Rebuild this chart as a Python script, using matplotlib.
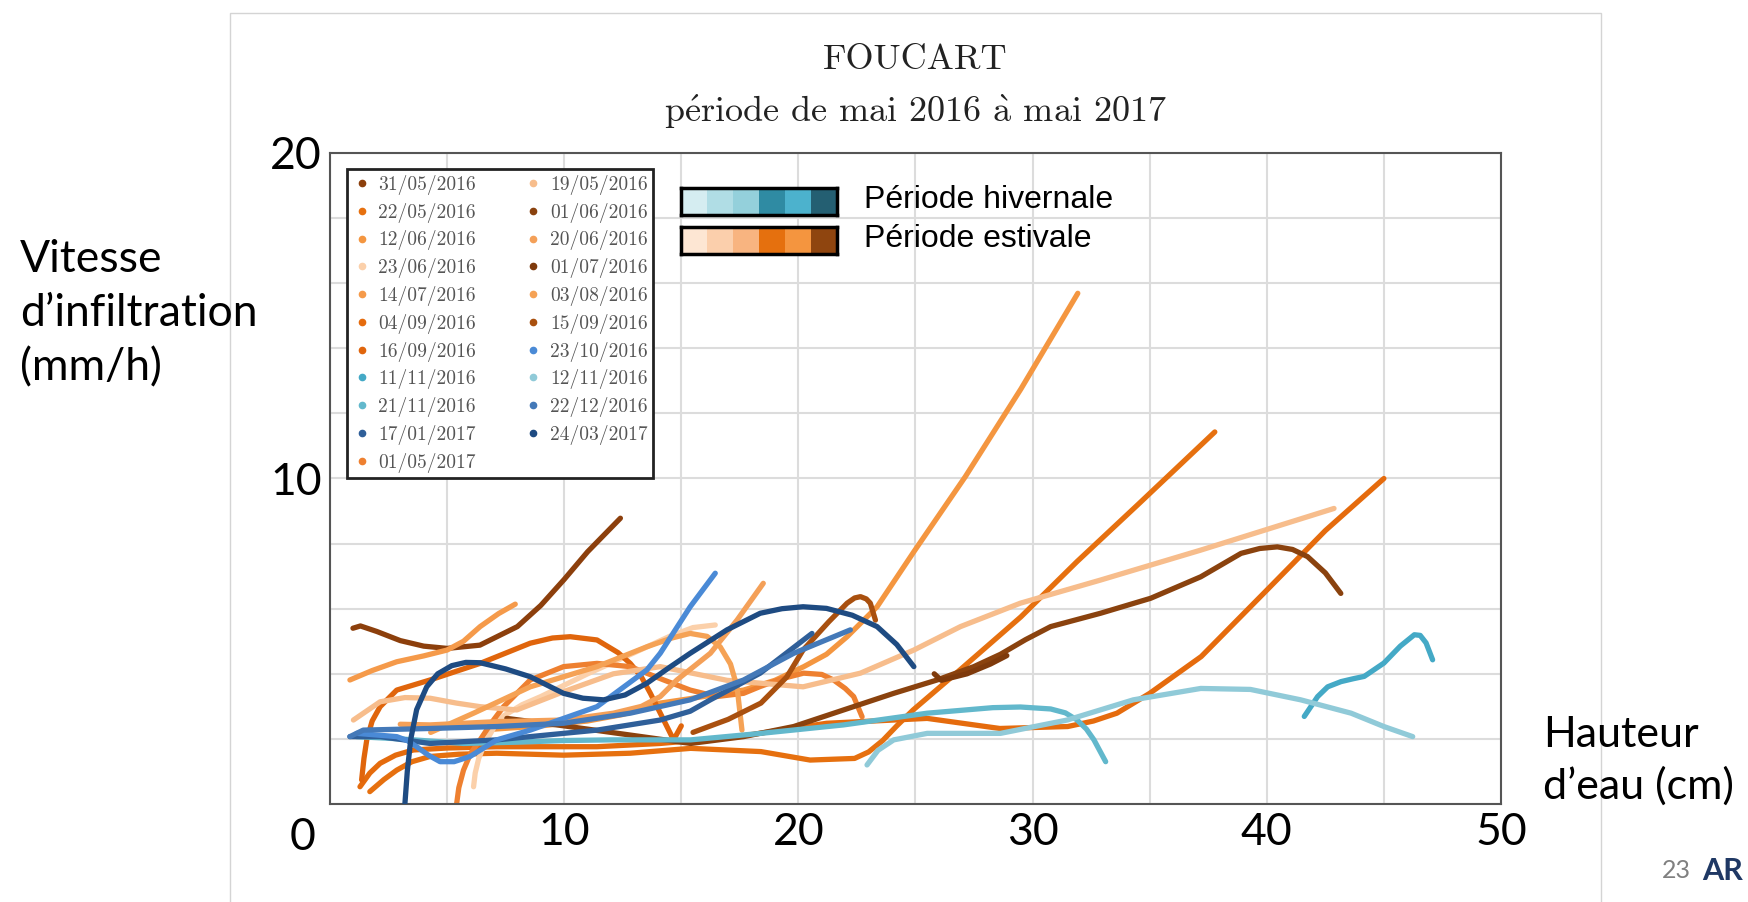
import matplotlib.pyplot as plt
import matplotlib.colors as mcolors
from matplotlib.patches import Rectangle
from matplotlib.lines import Line2D
import numpy as np

plt.rcParams['mathtext.fontset'] = 'cm'

# Legend order (matplotlib fills the 2 columns one after the other)
dates = ['31/05/2016', '22/05/2016', '12/06/2016', '23/06/2016', '14/07/2016',
         '04/09/2016', '16/09/2016', '11/11/2016', '21/11/2016', '17/01/2017',
         '01/05/2017',
         '19/05/2016', '01/06/2016', '20/06/2016', '01/07/2016', '03/08/2016',
         '15/09/2016', '23/10/2016', '12/11/2016', '22/12/2016', '24/03/2017']

colors = ['#8c3f0c', '#e6700f', '#f49640', '#fbd0aa', '#f59a4a',
          '#e56b0d', '#e0650c', '#44a9c6', '#62b8cc', '#2f5f99',
          '#ee8030',
          '#f7bd8c', '#8a420e', '#f4a058', '#7e3a0c', '#f5a255',
          '#a9500f', '#4a8ad6', '#90cad8', '#4479b8', '#1e4b82']

# hauteur d'eau (cm) / vitesse d'infiltration (mm/h) for each date
h_3105 = [0.98, 1.3, 2.0, 3.0, 4.0, 5.0, 6.4, 8.0, 9.0, 10.0, 11.0, 12.4]
v_3105 = [5.4, 5.47, 5.3, 5.02, 4.85, 4.78, 4.88, 5.45, 6.1, 6.9, 7.75, 8.78]

h_2205 = [1.7, 2.3, 2.85, 3.5, 4.27, 5.5, 7.12, 9.97, 12.82, 15.4, 18.4, 20.5, 22.4, 23.0, 23.6, 24.2, 24.9, 26.9, 29.5, 31.9, 34.5, 37.78]
v_2205 = [0.38, 0.75, 1.04, 1.3, 1.46, 1.53, 1.56, 1.5, 1.56, 1.71, 1.61, 1.35, 1.4, 1.6, 1.95, 2.4, 2.89, 4.12, 5.75, 7.45, 9.2, 11.43]

h_1206 = [7.0, 9.0, 11.0, 12.5, 14.1, 15.5, 17.66, 19.0, 20.23, 21.2, 22.08, 23.36, 24.93, 27.13, 29.5, 31.93]
v_1206 = [2.3, 2.4, 2.55, 2.75, 3.1, 3.25, 3.5, 3.8, 4.22, 4.6, 5.14, 6.06, 7.75, 10.06, 12.75, 15.69]

h_2306 = [6.13, 6.2, 6.35, 6.6, 7.0, 7.4, 8.2, 9.0, 11.0, 13.0, 14.5, 15.5, 16.45]
v_2306 = [0.53, 0.95, 1.4, 1.85, 2.35, 2.7, 3.05, 3.3, 4.0, 4.65, 5.15, 5.42, 5.5]

h_1407 = [0.85, 1.8, 2.85, 4.0, 5.0, 5.7, 6.41, 7.2, 7.91]
v_1407 = [3.81, 4.1, 4.37, 4.55, 4.73, 5.0, 5.45, 5.85, 6.14]

h_0409 = [1.28, 1.7, 2.14, 2.8, 3.56, 5.0, 7.12, 11.4, 14.1, 17.4, 21.2, 25.5, 28.6, 31.5, 32.6, 33.6, 35.0, 37.2, 40.0, 42.5, 45.0]
v_0409 = [0.53, 0.95, 1.25, 1.5, 1.66, 1.72, 1.76, 1.76, 1.86, 2.07, 2.48, 2.63, 2.32, 2.38, 2.55, 2.79, 3.4, 4.53, 6.57, 8.4, 10.0]

h_1609 = [1.35, 1.45, 1.57, 1.8, 2.14, 2.85, 4.27, 6.41, 8.55, 9.5, 10.26, 11.4, 12.3, 12.82, 13.3, 13.68, 14.2, 14.67, 15.0]
v_1609 = [0.74, 1.4, 1.97, 2.55, 2.99, 3.5, 3.81, 4.32, 4.94, 5.1, 5.14, 5.04, 4.65, 4.32, 3.9, 3.4, 2.65, 1.97, 2.4]

h_1111 = [41.6, 42.17, 42.6, 43.17, 43.7, 44.16, 45.0, 45.7, 46.3, 46.55, 46.8, 47.08]
v_1111 = [2.69, 3.3, 3.6, 3.76, 3.85, 3.92, 4.33, 4.85, 5.2, 5.18, 4.95, 4.43]

h_2111 = [1.14, 3.0, 5.7, 8.0, 10.0, 12.0, 15.4, 18.4, 21.93, 25.5, 28.3, 29.48, 30.77, 31.4, 31.9, 32.3, 32.62, 33.12]
v_2111 = [2.07, 2.0, 1.86, 1.9, 1.95, 1.97, 1.97, 2.17, 2.43, 2.79, 2.96, 2.98, 2.92, 2.8, 2.58, 2.3, 1.97, 1.3]

h_1701 = [0.85, 2.14, 4.27, 7.12, 11.4, 14.1, 15.38, 16.24, 18.37, 20.58]
v_1701 = [2.07, 2.07, 1.86, 1.97, 2.27, 2.58, 2.85, 3.2, 4.02, 5.24]

h_0105 = [5.41, 5.5, 5.7, 6.0, 6.41, 6.9, 7.41, 8.55, 9.97, 11.4, 12.82, 14.25, 15.38, 16.5, 17.66, 18.37, 19.3, 20.22, 21.0, 21.5, 22.0, 22.36, 22.72]
v_0105 = [0.02, 0.5, 1.04, 1.55, 1.97, 2.5, 2.99, 3.81, 4.22, 4.32, 4.22, 3.81, 3.5, 3.3, 3.4, 3.61, 3.85, 4.02, 3.98, 3.81, 3.55, 3.3, 2.68]

h_1905 = [1.0, 2.14, 3.2, 4.27, 5.4, 6.41, 7.98, 9.97, 12.1, 14.1, 16.95, 20.2, 22.65, 24.93, 26.92, 29.48, 32.9, 37.18, 42.87]
v_1905 = [2.58, 3.14, 3.27, 3.25, 3.1, 2.99, 2.89, 3.45, 4.0, 4.22, 3.8, 3.6, 4.02, 4.73, 5.45, 6.17, 6.88, 7.8, 9.08]

h_0106 = [7.55, 10.0, 12.5, 15.4, 17.66, 19.8, 21.93, 24.07, 25.92, 27.49, 28.63, 29.7, 30.77, 32.9, 35.04, 37.18, 38.9, 39.7, 40.45, 41.1, 41.74, 42.5, 43.16]
v_0106 = [2.63, 2.4, 2.15, 1.86, 2.07, 2.38, 2.89, 3.4, 3.81, 4.22, 4.6, 5.05, 5.45, 5.86, 6.32, 6.98, 7.7, 7.85, 7.9, 7.82, 7.6, 7.1, 6.47]

h_2006 = [3.0, 4.27, 7.12, 9.97, 12.1, 13.3, 14.1, 14.81, 16.24, 17.38, 18.5]
v_2006 = [2.45, 2.43, 2.53, 2.58, 2.79, 3.0, 3.3, 3.81, 4.63, 5.65, 6.78]

h_0107 = [25.8, 26.1, 27.2, 28.2, 28.9]
v_0107 = [4.0, 3.8, 4.0, 4.3, 4.56]

h_0308 = [4.3, 6.13, 8.55, 11.4, 13.53, 14.6, 15.38, 16.1, 16.66, 17.1, 17.38, 17.59]
v_0308 = [2.2, 2.79, 3.6, 4.22, 4.83, 5.1, 5.24, 5.15, 4.83, 4.3, 3.6, 2.27]

h_1509 = [15.5, 17.0, 18.4, 19.5, 20.2, 21.3, 22.08, 22.4, 22.65, 22.9, 23.07, 23.29]
v_1509 = [2.2, 2.6, 3.1, 3.9, 4.73, 5.6, 6.17, 6.33, 6.37, 6.3, 6.17, 5.65]

h_2310 = [1.14, 2.85, 3.3, 3.7, 4.2, 4.7, 5.3, 5.98, 7.12, 8.55, 11.4, 13.53, 14.1, 15.38, 16.45]
v_2310 = [2.17, 2.07, 1.95, 1.76, 1.5, 1.3, 1.3, 1.46, 1.97, 2.27, 2.99, 4.12, 4.63, 6.06, 7.09]

h_1211 = [22.93, 23.4, 24.07, 25.5, 28.63, 31.48, 34.3, 37.18, 39.3, 41.45, 43.6, 45.0, 46.23]
v_1211 = [1.2, 1.65, 1.97, 2.17, 2.17, 2.58, 3.2, 3.55, 3.52, 3.2, 2.79, 2.38, 2.07]

h_2212 = [0.85, 1.42, 4.27, 7.12, 9.97, 12.82, 15.38, 17.66, 19.8, 22.22]
v_2212 = [2.07, 2.27, 2.32, 2.38, 2.48, 2.79, 3.2, 3.81, 4.63, 5.35]

h_2403 = [3.2, 3.3, 3.45, 3.7, 4.13, 4.6, 5.2, 5.8, 6.41, 7.5, 8.55, 9.97, 10.8, 11.68, 12.6, 13.53, 14.5, 15.38,
          16.95, 18.37, 19.3, 20.2, 21.2, 22.3, 23.36, 24.2, 24.93]
v_2403 = [0.02, 1.0, 2.0, 2.9, 3.6, 4.0, 4.25, 4.35, 4.34, 4.15, 3.91, 3.4, 3.25, 3.2, 3.35, 3.71, 4.2, 4.63,
          5.35, 5.86, 6.0, 6.06, 6.01, 5.8, 5.45, 4.9, 4.22]

heights = [h_3105, h_2205, h_1206, h_2306, h_1407, h_0409, h_1609, h_1111, h_2111, h_1701, h_0105,
           h_1905, h_0106, h_2006, h_0107, h_0308, h_1509, h_2310, h_1211, h_2212, h_2403]
speeds = [v_3105, v_2205, v_1206, v_2306, v_1407, v_0409, v_1609, v_1111, v_2111, v_1701, v_0105,
          v_1905, v_0106, v_2006, v_0107, v_0308, v_1509, v_2310, v_1211, v_2212, v_2403]

# colour scales drawn next to the legend
hiver_colors = ['#d5edf1', '#b0dde5', '#94d0db', '#2f8ba3', '#4cb2cd', '#245f72']
ete_colors = ['#fde6d3', '#fbcfac', '#f8b480', '#e5700e', '#f4953f', '#8f450f']

W, H = 1749, 902
cm_font = ['cmr10', 'DejaVu Serif']
slide_font = 'Lato'

fig = plt.figure(figsize=(W / 100, H / 100), dpi=100)

# border of the pasted figure
fig.patches.append(Rectangle((230 / W, -0.01), (1601 - 230) / W, 1 - 13 / H + 0.01,
                             transform=fig.transFigure, fill=False,
                             edgecolor='#d4d4d4', lw=1))

ax = fig.add_axes([330 / W, 1 - 804 / H, (1501 - 330) / W, (804 - 153) / H])

# summer curves first, winter (blue) curves on top
winter = ['11/11/2016', '21/11/2016', '17/01/2017', '23/10/2016',
          '12/11/2016', '22/12/2016', '24/03/2017']
for i in range(len(dates)):
    ax.plot(heights[i], speeds[i], color=colors[i], lw=3.8,
            solid_capstyle='round', solid_joinstyle='round',
            zorder=3 if dates[i] in winter else 2)

ax.set_xlim(0, 50)
ax.set_ylim(0, 20)
ax.set_xticks(np.arange(0, 51, 5))
ax.set_yticks(np.arange(0, 21, 2))
ax.set_xticklabels(['', '', '10', '', '20', '', '30', '', '40', '', '50'])
ax.set_yticklabels(['', '', '', '', '', '10', '', '', '', '', '20'])
ax.tick_params(length=0, labelsize=32, pad=6)
for lab in ax.get_xticklabels() + ax.get_yticklabels():
    lab.set_family(slide_font)
ax.grid(True, color='#dcdcdc', lw=1.5)
ax.set_axisbelow(True)
for s in ax.spines.values():
    s.set_color('#555555')
    s.set_linewidth(1.5)

# legend with small dots
handles = [Line2D([], [], marker='o', ls='none', markersize=4.5, color=c) for c in colors]
leg = ax.legend(handles, dates, ncol=2, loc='upper left',
                bbox_to_anchor=(0.0145, 0.9754), borderaxespad=0,
                prop={'family': cm_font, 'size': 14}, fancybox=False,
                framealpha=1, edgecolor='#222222', handlelength=0.9,
                handletextpad=0.4, columnspacing=2.5, labelspacing=0.4,
                borderpad=0.3)
leg.get_frame().set_linewidth(2)
for t in leg.get_texts():
    t.set_color('#555555')

# colour scales
for y_top, cols, txt in [(188, hiver_colors, 'Période hivernale'),
                         (227, ete_colors, 'Période estivale')]:
    cax = fig.add_axes([681 / W, 1 - (y_top + 27) / H, 156 / W, 27 / H])
    cax.imshow([[mcolors.to_rgb(c) for c in cols]], aspect='auto')
    cax.set_xticks([])
    cax.set_yticks([])
    for s in cax.spines.values():
        s.set_linewidth(2.5)
        s.set_color('black')
    fig.text(864 / W, 1 - (y_top + 12) / H, txt, ha='left', va='center',
             fontsize=23, family='Liberation Sans')

# titles
fig.text(915 / W, 1 - 60 / H, 'FOUCART', ha='center', va='center',
         fontsize=26, family=cm_font, color='#222222')
fig.text(915 / W, 1 - 112 / H,
         r'p$\acute{\mathrm{e}}$riode de mai 2016 $\grave{\mathrm{a}}$ mai 2017',
         ha='center', va='center', fontsize=26, family=cm_font, color='#222222')

# slide labels
fig.text(20 / W, 1 - 314 / H, 'Vitesse\nd’infiltration\n(mm/h)', ha='left',
         va='center', fontsize=32, family=slide_font, linespacing=1.4)
fig.text(1543 / W, 1 - 761 / H, 'Hauteur\nd’eau (cm)', ha='left',
         va='center', fontsize=31, family=slide_font, linespacing=1.4)
fig.text(303 / W, 1 - 837 / H, '0', ha='center', va='center',
         fontsize=32, family=slide_font)
fig.text(1676 / W, 1 - 871 / H, '23', ha='center', va='center',
         fontsize=18, family=slide_font, color='#808080')
fig.text(1702 / W, 1 - 871 / H, 'AR', ha='left', va='center',
         fontsize=22, family=slide_font, weight='bold', color='#1f3864')

fig.savefig('out.png', dpi=100)
